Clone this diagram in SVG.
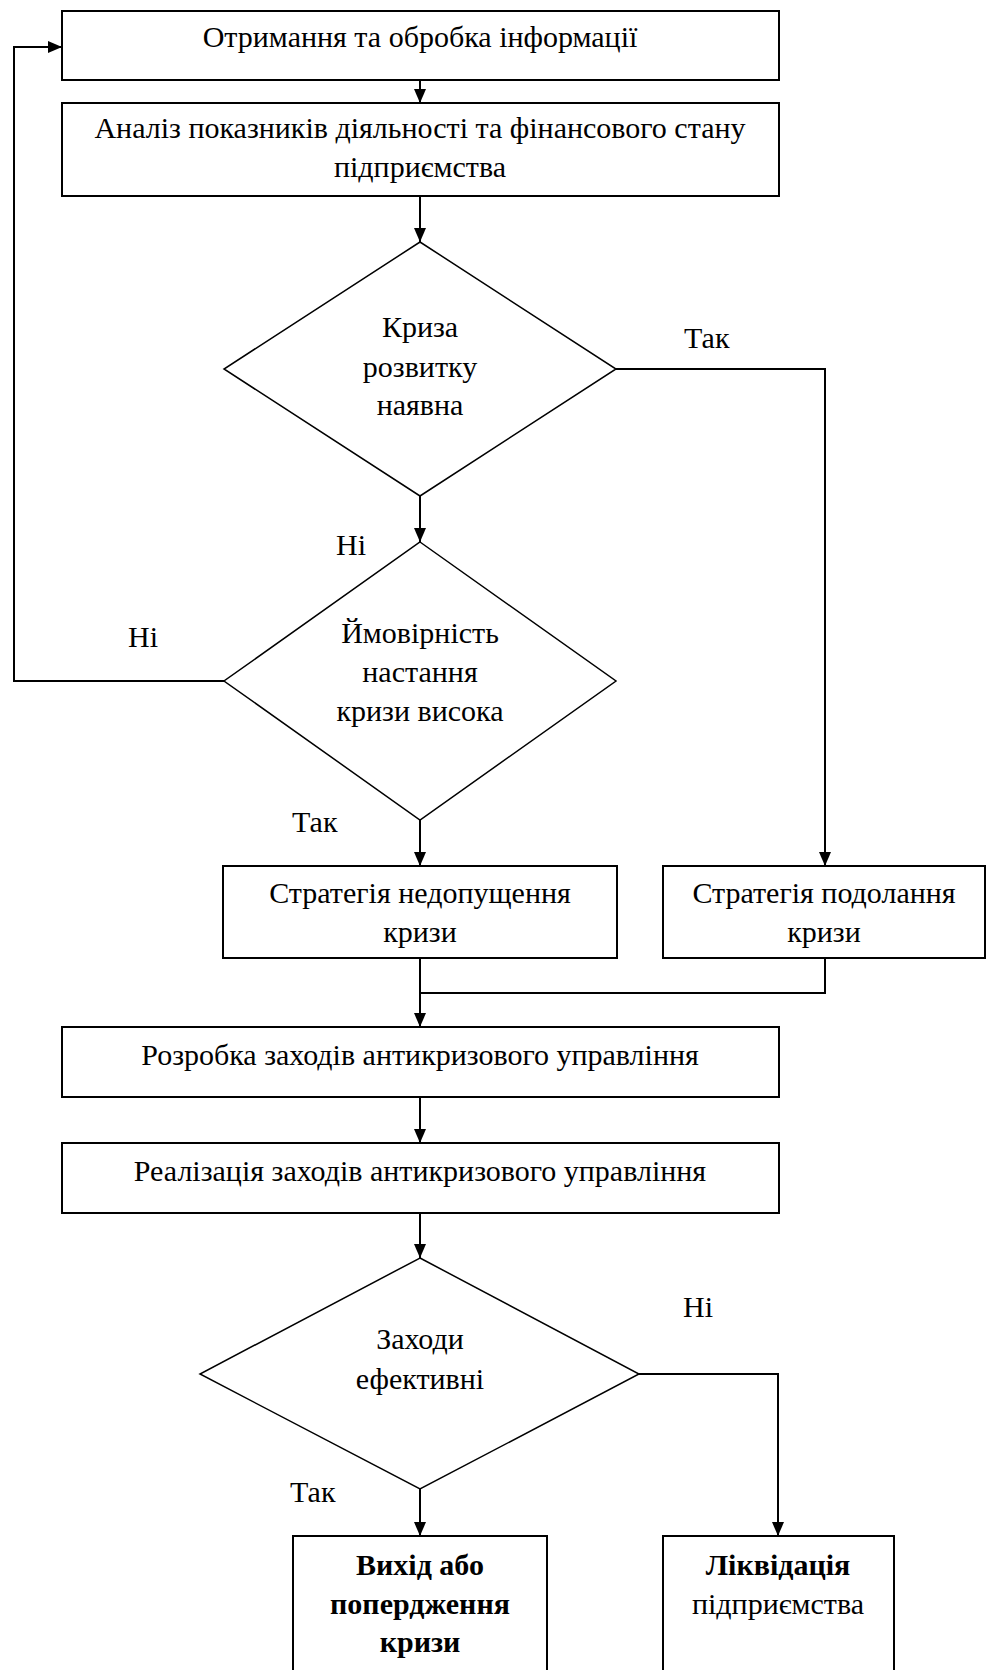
<svg xmlns="http://www.w3.org/2000/svg" width="987" height="1670" viewBox="0 0 987 1670">
<defs>
<marker id="arr" viewBox="0 0 14 12" refX="14" refY="6" markerWidth="14" markerHeight="12" markerUnits="userSpaceOnUse" orient="auto">
<path d="M0,0 L14,6 L0,12 z" fill="#000"/>
</marker>
<style>
.box{fill:#fff;stroke:#000;stroke-width:2}
.dia{fill:#fff;stroke:#000;stroke-width:1.5}
.t{font-family:"Liberation Serif","Times New Roman",serif;font-size:30px;fill:#000;text-anchor:middle}
.b{font-weight:bold}
.lbl{font-family:"Liberation Serif","Times New Roman",serif;font-size:30px;fill:#000}
.c{fill:none;stroke:#000;stroke-width:2}
.ca{fill:none;stroke:#000;stroke-width:2;marker-end:url(#arr)}
</style>
</defs>
<rect width="987" height="1670" fill="#fff"/>
<g id="connectors">
<polyline class="ca" points="224,681 14,681 14,47 62,47"/>
<line class="ca" x1="420" y1="80" x2="420" y2="103"/>
<line class="ca" x1="420" y1="196" x2="420" y2="242"/>
<line class="ca" x1="420" y1="496" x2="420" y2="542"/>
<polyline class="ca" points="616,369 825,369 825,866"/>
<line class="ca" x1="420" y1="820" x2="420" y2="866"/>
<line class="ca" x1="420" y1="958" x2="420" y2="1027"/>
<polyline class="c" points="825,958 825,993 420,993"/>
<line class="ca" x1="420" y1="1097" x2="420" y2="1143"/>
<line class="ca" x1="420" y1="1213" x2="420" y2="1258"/>
<line class="ca" x1="420" y1="1489" x2="420" y2="1536"/>
<polyline class="ca" points="639,1374 778,1374 778,1536"/>
</g>
<g id="labels">
<text class="lbl" x="684" y="348">Так</text>
<text class="lbl" x="336" y="555">Ні</text>
<text class="lbl" x="128" y="647">Ні</text>
<text class="lbl" x="292" y="832">Так</text>
<text class="lbl" x="683" y="1317">Ні</text>
<text class="lbl" x="290" y="1502">Так</text>
</g>
<g id="n1">
<rect class="box" x="62" y="11" width="717" height="69"/>
<text class="t" x="420" y="47">Отримання та обробка інформації</text>
</g>
<g id="n2">
<rect class="box" x="62" y="103" width="717" height="93"/>
<text class="t" x="420" y="138">Аналіз показників діяльності та фінансового стану</text>
<text class="t" x="420" y="177">підприємства</text>
</g>
<g id="d1">
<polygon class="dia" points="420,242 616,369 420,496 224,369"/>
<text class="t" x="420" y="337">Криза</text>
<text class="t" x="420" y="377">розвитку</text>
<text class="t" x="420" y="415">наявна</text>
</g>
<g id="d2">
<polygon class="dia" points="420,542 616,681 420,820 224,681"/>
<text class="t" x="420" y="643">Ймовірність</text>
<text class="t" x="420" y="682">настання</text>
<text class="t" x="420" y="721">кризи висока</text>
</g>
<g id="n3">
<rect class="box" x="223" y="866" width="394" height="92"/>
<text class="t" x="420" y="903">Стратегія недопущення</text>
<text class="t" x="420" y="942">кризи</text>
</g>
<g id="n4">
<rect class="box" x="663" y="866" width="322" height="92"/>
<text class="t" x="824" y="903">Стратегія подолання</text>
<text class="t" x="824" y="942">кризи</text>
</g>
<g id="n5">
<rect class="box" x="62" y="1027" width="717" height="70"/>
<text class="t" x="420" y="1065">Розробка заходів антикризового управління</text>
</g>
<g id="n6">
<rect class="box" x="62" y="1143" width="717" height="70"/>
<text class="t" x="420" y="1181">Реалізація заходів антикризового управління</text>
</g>
<g id="d3">
<polygon class="dia" points="420,1258 639,1374 420,1489 200,1374"/>
<text class="t" x="420" y="1349">Заходи</text>
<text class="t" x="420" y="1389">ефективні</text>
</g>
<g id="n7">
<rect class="box" x="293" y="1536" width="254" height="150"/>
<text class="t b" x="420" y="1575">Вихід або</text>
<text class="t b" x="420" y="1614">попердження</text>
<text class="t b" x="420" y="1652">кризи</text>
</g>
<g id="n8">
<rect class="box" x="663" y="1536" width="231" height="150"/>
<text class="t b" x="778" y="1575">Ліквідація</text>
<text class="t" x="778" y="1614">підприємства</text>
</g>
</svg>
